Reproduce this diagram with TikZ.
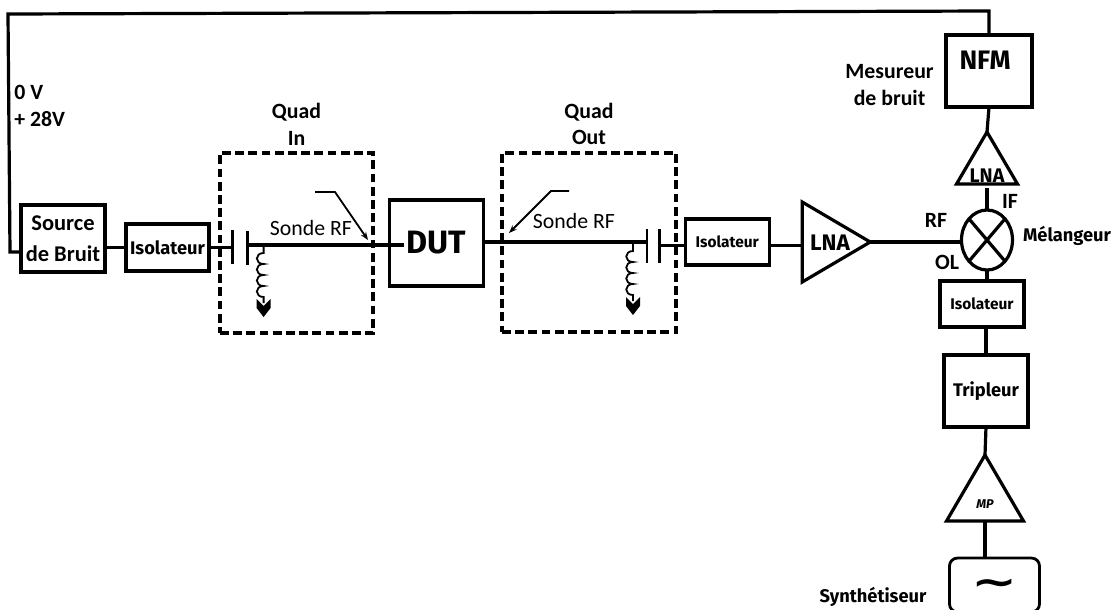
\documentclass[tikz,border=0pt]{standalone}
\usepackage{fontspec}
\setmainfont{Carlito}
\newfontfamily\comicfont{Fira Sans}
\newfontfamily\symbfont{DejaVu Sans}
\usetikzlibrary{positioning, shapes.geometric, arrows.meta}
\tikzset{
  blk/.style   = {draw, line width=.8mm, outer sep=0pt, inner sep=0pt, align=center,
                  font=\comicfont\bfseries\fontsize{13}{15}\selectfont},
  plate/.style = {fill, inner sep=0pt, outer sep=0pt, minimum width=.7mm, minimum height=8.5mm},
  quad/.style  = {draw, line width=.8mm, dash pattern=on 2.2mm off 1.1mm, minimum width=38mm},
  ampli/.style = {draw, line width=.8mm, isosceles triangle, isosceles triangle stretches,
                  inner sep=0pt, outer sep=0pt},
  wire/.style  = {line width=.8mm},
  fine/.style  = {line width=.45mm},
  lbl/.style   = {font=\bfseries\fontsize{15.5}{19}\selectfont, inner sep=0pt, align=center},
  note/.style  = {font=\fontsize{15.5}{19}\selectfont, inner sep=0pt},
  cmc/.style   = {font=\comicfont\bfseries\fontsize{13}{15}\selectfont, inner sep=0pt},
  choke/.pic   = {
    \draw[fine] (0,0) -- (0,8)
      \foreach \k in {0,1,2,3} { .. controls (-9,8+11*\k) and (-9,19+11*\k) .. (0,19+11*\k) }
      -- (0,58);
    \fill (-7,54) -- (0,61) -- (7,54) -- (7,63) -- (0,72) -- (-7,63) -- cycle;
  }
}
\begin{document}
\begin{tikzpicture}[x=.25mm, y=-.25mm]
  \useasboundingbox (0,0) rectangle (1117,609);
  % ligne RF
  \node[blk, minimum width=21mm, minimum height=16.75mm, font=\bfseries\fontsize{16}{22}\selectfont] (src) at (63,238.5) {Source\\de Bruit};
  \node[blk, right=5.25mm of src, yshift=-2.25mm, minimum width=20.75mm, minimum height=11.75mm,
        font=\comicfont\bfseries\fontsize{13}{15}\selectfont] (isoa) {Isolateur};
  \node[plate, right=5.5mm of isoa, yshift=.25mm] (capa) {};
  \node[plate, right=3mm of capa, yshift=-.25mm] (capb) {};
  \node[blk, right=35.25mm of capb, yshift=1.125mm, minimum width=23.5mm, minimum height=21.5mm,
        font=\comicfont\bfseries\fontsize{23}{25}\selectfont] (dut) {DUT};
  \node[plate, right=40.5mm of dut, yshift=-.625mm] (capc) {};
  \node[plate, right=2.5mm of capc] (capd) {};
  \node[blk, right=6mm of capd, yshift=.875mm, minimum width=21mm, minimum height=11.5mm,
        font=\comicfont\bfseries\fontsize{11}{13}\selectfont] (isob) {Isolateur};
  \node[ampli, right=8.25mm of isob, minimum width=20mm, minimum height=17mm] (lnaa) {};
  % colonne de droite
  \node[blk, minimum width=21.5mm, minimum height=18mm] (nfm) at (989,71) {};
  \node[ampli, below=6.25mm of nfm, xshift=-.5mm, shape border rotate=90,
        minimum width=15.25mm, minimum height=13mm] (lnab) {};
  \node[draw, ellipse, line width=.8mm, inner sep=0pt, outer sep=0pt, below=6.5mm of lnab,
        minimum width=12.75mm, minimum height=15mm] (mix) {};
  \node[blk, below=2.75mm of mix, xshift=-1.25mm, minimum width=21mm, minimum height=11.5mm,
        font=\comicfont\bfseries\fontsize{11}{13}\selectfont] (isoc) {Isolateur};
  \node[blk, below=7mm of isoc, xshift=1mm, minimum width=21mm, minimum height=18mm] (trip) {Tripleur};
  \node[ampli, below=7mm of trip, xshift=-.25mm, shape border rotate=90,
        minimum width=19.25mm, minimum height=16.5mm] (mp) {};
  \node[draw, line width=.7mm, rounded corners=2mm, below=9.25mm of mp, xshift=2.375mm,
        minimum width=22.5mm, minimum height=13.5mm, inner sep=0pt, outer sep=0pt] (syn) {};
  \node[inner sep=0pt, font=\symbfont\bfseries\fontsize{28}{28}\selectfont] (sinus)
       at ([yshift=-.5mm]syn.center) {\scalebox{1.4}[1]{∼}};
  % quadripoles
  \node[quad, minimum width=38.25mm, minimum height=45mm] (quadin) at (296.5,243) {};
  \node[quad, minimum width=43.5mm, minimum height=44.75mm] (quadout) at (589,242.5) {};
  \node[lbl, above=1.5mm of quadin] (quadinlbl) {Quad\\In};
  \node[lbl, above=1.5mm of quadout] (quadoutlbl) {Quad\\Out};
  % textes
  \node[lbl, align=left, anchor=west] (alim) at (14,106) {0 V\\+ 28V};
  \node[lbl, left=3mm of nfm, yshift=-3.5mm] (mesbruit) {Mesureur\\de bruit};
  \node[cmc, font=\comicfont\bfseries\fontsize{19}{21}\selectfont] (nfmlbl) at (985,60) {NFM};
  \node[cmc, font=\comicfont\bfseries\fontsize{16}{18}\selectfont] (lnaalbl) at (830,243) {LNA};
  \node[cmc, font=\comicfont\bfseries\fontsize{14}{16}\selectfont] (lnablbl) at (987,176) {LNA};
  \node[cmc, font=\comicfont\bfseries\itshape\fontsize{9}{11}\selectfont] (mplbl) at (985,504) {MP};
  \node[cmc] (mellbl) at (1067,236) {Mélangeur};
  \node[cmc] (synlbl) at (873,597) {Synthétiseur};
  \node[lbl] (iflbl) at (1010,201) {IF};
  \node[lbl] (rflbl) at (936,220) {RF};
  \node[lbl] (ollbl) at (947,262) {OL};
  \node[note] (sondein) at (311,228) {Sonde RF};
  \node[note] (sondeout) at (574,221) {Sonde RF};
  % connexions
  \coordinate (rfin) at ([yshift=-.5mm]dut.west);
  \coordinate (topr) at (989,11);
  \coordinate (topl) at (8,14);
  \coordinate (botl) at (10,252);
  \draw[wire] (nfm.north) -- (topr) -- (topl) -- (botl) -- ([yshift=-3.375mm]src.west);
  \draw[wire] (isoa.west) -- (isoa.west -| src.east);
  \draw[wire] (isoa.east) -- (isoa.east -| capa.west);
  \draw[wire] (rfin -| capb.east) -- ([xshift=3.5mm]rfin);
  \draw[wire] ([yshift=.25mm]dut.east) -- ([yshift=.25mm]dut.east -| capc.west);
  \draw[wire] (capd.east) -- (capd.east -| isob.west);
  \draw[wire] (capd.east -| isob.east) -- (capd.east -| lnaa.west);
  \draw[wire] (lnaa.apex) -- (lnaa.apex -| mix.west);
  \draw[wire] (nfm.south) -- (lnab.apex);
  \draw[wire] (lnab.lower side) ++(0,4) -- (mix.north);
  \draw[wire] (mix.south) -- (mix.south |- isoc.north);
  \draw[wire] (isoc.south -| trip.north) -- (trip.north);
  \draw[wire] (trip.south) -- (mp.apex);
  \draw[wire] (mp.lower side) -- (mp.lower side |- syn.north);
  \draw[wire] (mix.north west) -- (mix.south east);
  \draw[wire] (mix.north east) -- (mix.south west);
  % bobines
  \pic at ([xshift=3.75mm]rfin -| capb.east) {choke};
  \pic at (633,243) {choke};
  % sondes
  \draw[fine, -{Stealth[length=2mm]}] (315,192) -- (335,192) -- (368,240);
  \draw[fine, -{Stealth[length=2mm]}] (569,191) -- (551,191) -- (509,233);
\end{tikzpicture}
\end{document}
